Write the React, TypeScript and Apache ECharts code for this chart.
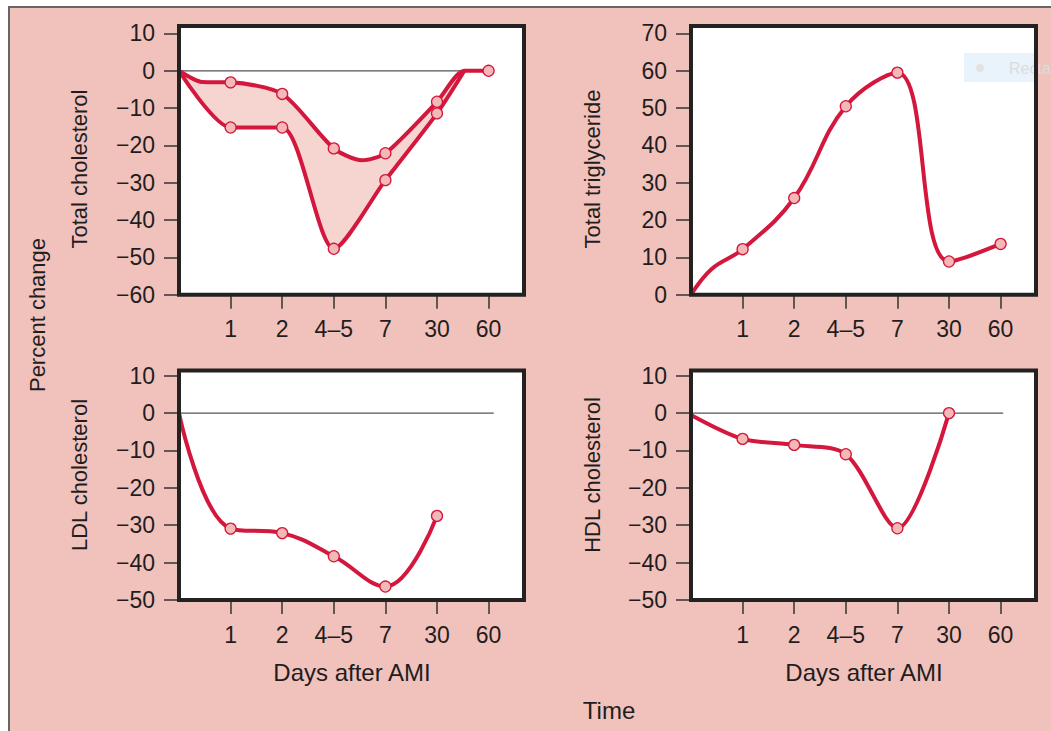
import React, { useEffect, useRef } from 'react';
import * as echarts from 'echarts';

// ---------- data ----------
const dayLabels = ['1', '2', '4–5', '7', '30', '60'];
const dayPositions = [1, 2, 3, 4, 5, 6];

const cholTicks = [-60, -50, -40, -30, -20, -10, 0, 10];
const trigTicks = [0, 10, 20, 30, 40, 50, 60, 70];
const lipoTicks = [-50, -40, -30, -20, -10, 0, 10];

// Total cholesterol: upper edge of the band (x = day position, y = % change)
const cholUpperX = [0, 0.45, 1, 2, 3, 3.55, 4, 5, 5.53, 6];
const cholUpperY = [0, -3, -3.1, -6.2, -20.8, -24, -22.1, -8.3, 0, 0];
// Total cholesterol: lower edge of the band
const cholLowerX = [0, 1, 2, 3, 4, 5, 5.53];
const cholLowerY = [0, -15.2, -15.2, -47.7, -29.3, -11.4, 0];

const trigX = [0, 0.4, 1, 2, 3, 4, 5, 6];
const trigY = [0, 6.9, 12.2, 25.9, 50.5, 59.5, 8.9, 13.6];

const ldlX = [0, 1, 2, 3, 4, 5];
const ldlY = [0, -30.9, -32.1, -38.3, -46.4, -27.5];

const hdlX = [0, 1, 2, 3, 4, 5];
const hdlY = [-0.5, -6.9, -8.5, -11, -30.8, 0];

// ---------- styling ----------
const FONT = '"Liberation Sans", Arial, Helvetica, sans-serif';
const RED = '#d3173d';
const MARK_FILL = '#f3b9b7';
const BAND = '#f6d5d0';
const PINK_BG = '#f1c1bc';
const TEXT = '#1e1e1e';

const zip = (xs: number[], ys: number[]) => xs.map((x, i) => [x, ys[i]]);
const marks = (xs: number[], ys: number[]) =>
  zip(xs, ys).filter((p) => dayPositions.includes(p[0]));

const fmtY = (v: number) => (v < 0 ? '\u2212' + Math.abs(v) : String(v));

const panels = [
  { left: 179, top: 26, right: 524, bottom: 294.7, min: -60, max: 12, ticks: cholTicks },
  { left: 691, top: 26, right: 1036, bottom: 294.7, min: 0, max: 72, ticks: trigTicks },
  { left: 179, top: 370.5, right: 524, bottom: 600, min: -50, max: 11.4, ticks: lipoTicks },
  { left: 691, top: 370.5, right: 1036, bottom: 600, min: -50, max: 11.4, ticks: lipoTicks },
];

const XMAX = (524 - 179) / 51.6;

export default function App() {
  const ref = useRef<HTMLDivElement>(null);

  useEffect(() => {
    if (!ref.current) return;
    const chart = echarts.init(ref.current, undefined, { renderer: 'svg' });

    const grid = panels.map((p) => ({
      left: p.left,
      top: p.top,
      width: p.right - p.left,
      height: p.bottom - p.top,
      show: true,
      backgroundColor: '#ffffff',
      borderWidth: 0,
    }));

    const xAxis = panels.map((p, i) => ({
      type: 'value',
      gridIndex: i,
      min: 0,
      max: XMAX,
      axisLine: { show: false, onZero: false },
      splitLine: { show: false },
      axisTick: {
        show: true,
        customValues: dayPositions,
        length: 14,
        lineStyle: { color: '#333', width: 1.5 },
      },
      axisLabel: {
        customValues: dayPositions,
        formatter: (v: number) => dayLabels[Math.round(v) - 1] ?? '',
        margin: 23,
        fontSize: 23,
        color: TEXT,
        fontFamily: FONT,
      },
    }));

    const yAxis = panels.map((p, i) => ({
      type: 'value',
      gridIndex: i,
      min: p.min,
      max: p.max,
      axisLine: { show: false, onZero: false },
      splitLine: { show: false },
      axisTick: {
        show: true,
        customValues: p.ticks,
        length: 15,
        lineStyle: { color: '#333', width: 1.5 },
      },
      axisLabel: {
        customValues: p.ticks,
        formatter: fmtY,
        margin: 24,
        fontSize: 23,
        color: TEXT,
        fontFamily: FONT,
      },
    }));

    const lineSeries = (i: number, data: number[][], smooth: number) => ({
      type: 'line',
      xAxisIndex: i,
      yAxisIndex: i,
      data,
      smooth,
      showSymbol: false,
      lineStyle: { color: RED, width: 4 },
      z: 5,
      silent: true,
    });
    const markSeries = (i: number, data: number[][]) => ({
      type: 'scatter',
      xAxisIndex: i,
      yAxisIndex: i,
      data,
      symbolSize: 11,
      itemStyle: { color: MARK_FILL, borderColor: RED, borderWidth: 1.3, opacity: 1 },
      z: 6,
      silent: true,
    });
    const zeroSeries = (i: number, end: number) => ({
      type: 'line',
      xAxisIndex: i,
      yAxisIndex: i,
      data: [[0, 0], [end, 0]],
      showSymbol: false,
      lineStyle: { color: '#555', width: 1.3 },
      z: 4,
      silent: true,
    });
    const areaSeries = (i: number, data: number[][], smooth: number, color: string, z: number) => ({
      type: 'line',
      xAxisIndex: i,
      yAxisIndex: i,
      data,
      smooth,
      showSymbol: false,
      lineStyle: { width: 0, opacity: 0 },
      areaStyle: { color, origin: 0, opacity: 1 },
      z,
      silent: true,
    });

    const cholUp = zip(cholUpperX, cholUpperY);
    const cholLo = zip(cholLowerX, cholLowerY);

    const series: any[] = [
      // panel 1
      areaSeries(0, cholLo, 0.25, BAND, 2),
      areaSeries(0, cholUp, 0.25, '#ffffff', 3),
      zeroSeries(0, 6),
      lineSeries(0, cholLo, 0.25),
      lineSeries(0, cholUp, 0.25),
      markSeries(0, marks(cholLowerX, cholLowerY)),
      markSeries(0, marks(cholUpperX, cholUpperY)),
      // panel 2
      lineSeries(1, zip(trigX, trigY), 0.4),
      markSeries(1, marks(trigX, trigY)),
      // panel 3
      zeroSeries(2, 6.1),
      lineSeries(2, zip(ldlX, ldlY), 0.4),
      markSeries(2, marks(ldlX, ldlY)),
      // panel 4
      zeroSeries(3, 6.05),
      lineSeries(3, zip(hdlX, hdlY), 0.3),
      markSeries(3, marks(hdlX, hdlY)),
    ];

    const txt = (text: string, x: number, y: number, rot = 0, size = 22) => ({
      type: 'text',
      x,
      y,
      rotation: rot,
      z: 120,
      silent: true,
      style: {
        text,
        x: 0,
        y: 0,
        align: 'center',
        verticalAlign: 'middle',
        fontSize: size,
        fontFamily: FONT,
        fill: TEXT,
      },
    });

    const boxes = panels.map((p) => ({
      type: 'rect',
      z: 100,
      silent: true,
      shape: { x: p.left, y: p.top, width: p.right - p.left, height: p.bottom - p.top },
      style: { fill: 'none', stroke: '#222', lineWidth: 4 },
    }));

    const graphic: any[] = [
      // faint legend remnant inside the triglyceride panel
      {
        type: 'rect',
        z: 90,
        silent: true,
        shape: { x: 964, y: 53, width: 74, height: 29 },
        style: { fill: '#e9f3fb' },
      },
      {
        type: 'circle',
        z: 91,
        silent: true,
        shape: { cx: 980, cy: 68, r: 4 },
        style: { fill: '#e2e2e2' },
      },
      {
        type: 'text',
        z: 91,
        silent: true,
        x: 1009,
        y: 68,
        style: {
          text: 'Recta',
          x: 0,
          y: 0,
          verticalAlign: 'middle',
          fontSize: 16,
          fontFamily: FONT,
          fill: '#dcdcdc',
        },
      },
      ...boxes,
      txt('Percent change', 37, 315, Math.PI / 2),
      txt('Total cholesterol', 79, 169, Math.PI / 2),
      txt('Total triglyceride', 592, 169, Math.PI / 2),
      txt('LDL cholesterol', 79, 475, Math.PI / 2),
      txt('HDL cholesterol', 592, 475, Math.PI / 2),
      txt('Days after AMI', 352, 672, 0, 24),
      txt('Days after AMI', 864, 672, 0, 24),
      txt('Time', 609, 710, 0, 24),
    ];

    chart.setOption({
      animation: false,
      backgroundColor: 'transparent',
      grid,
      xAxis,
      yAxis,
      series,
      graphic,
    });

    return () => chart.dispose();
  }, []);

  return (
    <div style={{ position: 'fixed', left: 0, top: 0, width: 1051, height: 731, background: '#ffffff', overflow: 'hidden' }}>
      <div
        style={{
          position: 'absolute',
          left: 8,
          top: 6,
          width: 1043,
          height: 725,
          boxSizing: 'border-box',
          borderTop: '2px solid #666',
          borderLeft: '2px solid #666',
          background: PINK_BG,
        }}
      />
      <div ref={ref} style={{ position: 'absolute', left: 0, top: 0, width: 1051, height: 731 }} />
    </div>
  );
}
